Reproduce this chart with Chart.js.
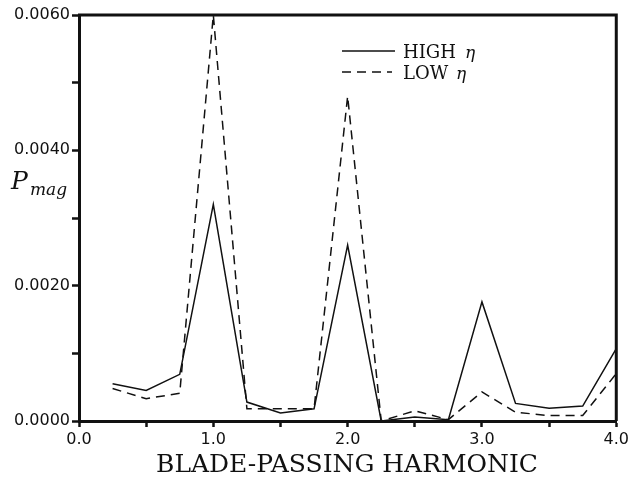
<!DOCTYPE html>
<html>
<head>
<meta charset="utf-8">
<script src="https://cdn.jsdelivr.net/npm/chart.js@4"></script>
<style>
  html, body { margin: 0; padding: 0; background: #fff; }
  #wrap { width: 632px; height: 481px; }
</style>
</head>
<body>
<div id="wrap"><canvas id="c" width="632" height="481"></canvas></div>
<script>
// harmonic number (x) and pressure magnitude for the two efficiency cases
var harmonics = [0.25, 0.5, 0.75, 1.0, 1.25, 1.5, 1.75, 2.0, 2.25, 2.5, 2.75, 3.0, 3.25, 3.5, 3.75, 4.0];
var highEta = [0.00055, 0.00045, 0.00069, 0.00320, 0.00028, 0.00012, 0.00018, 0.00260, 0.00000, 0.00006, 0.00002, 0.00176, 0.00026, 0.00019, 0.00022, 0.00107];
var lowEta  = [0.00048, 0.00033, 0.00041, 0.00600, 0.00018, 0.00018, 0.00018, 0.00480, 0.00000, 0.00015, 0.00002, 0.00043, 0.00013, 0.00008, 0.00008, 0.00070];
var xLabels = ["0.0", "1.0", "2.0", "3.0", "4.0"];
var yLabels = ["0.0000", "0.0020", "0.0040", "0.0060"];

var ink = "#111";
var serif = "'DejaVu Serif', 'Liberation Serif', serif";
var sans = "'DejaVu Sans', 'Liberation Sans', sans-serif";

function pts(ys) {
  return harmonics.map(function (x, i) { return { x: x, y: ys[i] }; });
}

// box frame + legend + axis titles
var decor = {
  id: "decor",
  afterDraw: function (chart) {
    var ctx = chart.ctx;
    var a = chart.chartArea;
    ctx.save();
    ctx.strokeStyle = ink;
    ctx.lineWidth = 3;
    ctx.beginPath();
    ctx.moveTo(a.left - 1, a.top);
    ctx.lineTo(a.right, a.top);
    ctx.lineTo(a.right, a.bottom);
    ctx.stroke();

    // legend
    ctx.lineWidth = 1.5;
    ctx.beginPath();
    ctx.moveTo(342, 51);
    ctx.lineTo(395, 51);
    ctx.stroke();
    ctx.setLineDash([9, 6]);
    ctx.beginPath();
    ctx.moveTo(342, 72);
    ctx.lineTo(392, 72);
    ctx.stroke();
    ctx.setLineDash([]);
    ctx.fillStyle = ink;
    ctx.textBaseline = "alphabetic";
    ctx.font = "18px " + serif;
    ctx.fillText("HIGH", 403, 58);
    ctx.fillText("LOW", 403, 79);
    ctx.font = "italic 17px " + serif;
    ctx.fillText("\u03b7", 465, 58);
    ctx.fillText("\u03b7", 456, 79);

    // y title P_mag
    ctx.font = "italic 25px " + serif;
    ctx.fillText("P", 11, 189);
    ctx.font = "italic 17px " + serif;
    ctx.fillText("mag", 30, 195);

    // x title
    ctx.font = "25px " + serif;
    ctx.textAlign = "center";
    ctx.fillText("BLADE-PASSING HARMONIC", 347, 472);
    ctx.restore();
  }
};

var chart = new Chart(document.getElementById("c").getContext("2d"), {
  type: "line",
  data: {
    datasets: [
      { label: "HIGH \u03b7", data: pts(highEta), borderColor: ink, borderWidth: 1.5, pointRadius: 0, fill: false, tension: 0 },
      { label: "LOW \u03b7", data: pts(lowEta), borderColor: ink, borderWidth: 1.5, borderDash: [9, 6], pointRadius: 0, fill: false, tension: 0 }
    ]
  },
  options: {
    responsive: false,
    animation: false,
    layout: { padding: { top: 15, right: 15, left: 0, bottom: 0 } },
    plugins: { legend: { display: false }, tooltip: { enabled: false } },
    scales: {
      x: {
        type: "linear",
        min: 0,
        max: 4,
        afterFit: function (s) { s.height = 60; },
        afterBuildTicks: function (s) {
          var t = [];
          for (var v = 0; v <= 4.001; v += 0.5) t.push({ value: Math.round(v * 10) / 10 });
          s.ticks = t;
        },
        ticks: {
          color: ink,
          font: { family: sans, size: 16 },
          padding: 3,
          maxRotation: 0,
          autoSkip: false,
          callback: function (v) {
            var i = xLabels.indexOf(v.toFixed(1));
            return (v % 1 === 0 && i >= 0) ? xLabels[i] : "";
          }
        },
        grid: { drawOnChartArea: false, drawTicks: true, tickLength: 6, tickWidth: 2.5, tickColor: ink },
        border: { color: ink, width: 3 }
      },
      y: {
        min: 0,
        max: 0.006,
        afterFit: function (s) { s.width = 79; },
        afterBuildTicks: function (s) {
          var t = [];
          for (var k = 0; k <= 6; k++) t.push({ value: k / 1000 });
          s.ticks = t;
        },
        ticks: {
          color: ink,
          font: { family: sans, size: 16 },
          padding: 2,
          callback: function (v) {
            var k = Math.round(v * 1000);
            return k % 2 === 0 ? yLabels[k / 2] : "";
          }
        },
        grid: { drawOnChartArea: false, drawTicks: true, tickLength: 7, tickWidth: 2.5, tickColor: ink },
        border: { color: ink, width: 3 }
      }
    }
  },
  plugins: [decor]
});
</script>
</body>
</html>
